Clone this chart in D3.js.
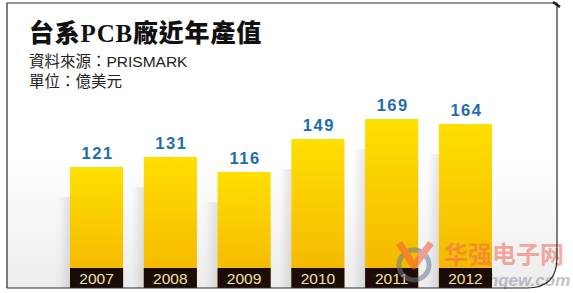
<!DOCTYPE html>
<html>
<head>
<meta charset="utf-8">
<script src="https://cdn.jsdelivr.net/npm/d3@7"></script>
<style>
  body { margin: 0; background: #fff; }
  svg { display: block; }
</style>
</head>
<body>
<div id="container"></div>
<script>
/* DATA */
const years = ["2007", "2008", "2009", "2010", "2011", "2012"];
const values = [121, 131, 116, 149, 169, 164];
const title = "台系PCB廠近年產值";
const subtitles = ["資料來源：PRISMARK", "單位：億美元"];

/* CONSTANTS */
const width = 573, height = 293;
const baseY = 288;

const svg = d3.select("#container")
  .append("svg")
  .attr("width", width)
  .attr("height", height);

const defs = svg.append("defs");

// bar gradient (bright yellow top, deeper yellow bottom)
const barGrad = defs.append("linearGradient")
  .attr("id", "barGrad").attr("x1", 0).attr("y1", 0).attr("x2", 0).attr("y2", 1);
barGrad.append("stop").attr("offset", "0%").attr("stop-color", "#ffdf00");
barGrad.append("stop").attr("offset", "100%").attr("stop-color", "#f3b400");

// background gradient inside the frame
const bgGrad = defs.append("linearGradient")
  .attr("id", "bgGrad").attr("x1", 0).attr("y1", 0).attr("x2", 0).attr("y2", 1);
bgGrad.append("stop").attr("offset", "0%").attr("stop-color", "#ffffff");
bgGrad.append("stop").attr("offset", "55%").attr("stop-color", "#ffffff");
bgGrad.append("stop").attr("offset", "100%").attr("stop-color", "#ececed");

// soft shadow left of each bar
const shGrad = defs.append("linearGradient")
  .attr("id", "shGrad").attr("x1", 0).attr("y1", 0).attr("x2", 1).attr("y2", 0);
shGrad.append("stop").attr("offset", "0%").attr("stop-color", "#000").attr("stop-opacity", 0);
shGrad.append("stop").attr("offset", "100%").attr("stop-color", "#000").attr("stop-opacity", 0.1);

/* FRAME */
const fx0 = 7, fy0 = 3, fx1 = 557, fy1 = baseY, r = 30;
const framePath = `M${fx0},${fy0} H${fx1} V${fy1 - r} Q${fx1},${fy1} ${fx1 - r},${fy1} H${fx0} Z`;
svg.append("path").attr("d", framePath).attr("fill", "url(#bgGrad)");

/* SCALES */
const xScale = d3.scaleBand()
  .domain(years)
  .range([70, 492])
  .paddingInner(0.28)
  .paddingOuter(0);

const yScale = d3.scaleLinear()
  .domain([0, 200])
  .range([baseY, baseY - 200]);

/* WATERMARK (behind the bars) */
const wm = svg.append("g").attr("opacity", 0.55);
wm.append("text").attr("x", 444).attr("y", 286)
  .attr("font-family", "Liberation Sans, Arial, sans-serif").attr("font-weight", "bold")
  .attr("font-style", "italic")
  .attr("font-size", 17).attr("fill", "#8a93a0")
  .text("www.hqew.com");

// shadows
svg.selectAll(".shadow")
  .data(years)
  .join("rect")
  .attr("class", "shadow")
  .attr("x", d => xScale(d) - 12)
  .attr("y", (d, i) => yScale(values[i]) + 30)
  .attr("width", 12)
  .attr("height", (d, i) => baseY - yScale(values[i]) - 30)
  .attr("fill", "url(#shGrad)");

// bars
svg.selectAll(".bar")
  .data(years)
  .join("rect")
  .attr("class", "bar")
  .attr("x", d => xScale(d))
  .attr("y", (d, i) => yScale(values[i]))
  .attr("width", xScale.bandwidth())
  .attr("height", (d, i) => baseY - yScale(values[i]))
  .attr("fill", "url(#barGrad)");

// value labels
svg.selectAll(".val")
  .data(years)
  .join("text")
  .attr("class", "val")
  .attr("x", d => xScale(d) + xScale.bandwidth() / 2 + 1)
  .attr("y", (d, i) => yScale(values[i]) - 8)
  .attr("text-anchor", "middle")
  .attr("font-family", "Liberation Sans, Arial, sans-serif")
  .attr("font-weight", "bold")
  .attr("font-size", 16.5)
  .attr("letter-spacing", 1.5)
  .attr("fill", "#1f6cb0")
  .text((d, i) => values[i]);

// year boxes
svg.selectAll(".ybox")
  .data(years)
  .join("rect")
  .attr("class", "ybox")
  .attr("x", d => xScale(d))
  .attr("y", baseY - 20)
  .attr("width", xScale.bandwidth())
  .attr("height", 20)
  .attr("fill", "#1b0c07");

svg.selectAll(".year")
  .data(years)
  .join("text")
  .attr("class", "year")
  .attr("x", d => xScale(d) + xScale.bandwidth() / 2)
  .attr("y", baseY - 4)
  .attr("text-anchor", "middle")
  .attr("font-family", "Liberation Sans, Arial, sans-serif")
  .attr("font-size", 15.5)
  .attr("fill", "#f2e2a2")
  .text(d => d);

/* WATERMARK (logo and name over the bars) */
const wm2 = svg.append("g").attr("opacity", 0.55);
wm2.append("circle").attr("cx", 414).attr("cy", 265).attr("r", 15)
  .attr("fill", "none").attr("stroke", "#6b7a90").attr("stroke-width", 5);
wm2.append("path").attr("d", "M399,243 L414,266 L431,243")
  .attr("fill", "none").attr("stroke", "#f25a3c").attr("stroke-width", 7)
  .attr("stroke-linejoin", "round");
wm2.append("text").attr("x", 444).attr("y", 263)
  .attr("font-family", "Noto Sans CJK SC, sans-serif").attr("font-weight", "bold")
  .attr("font-size", 24).attr("fill", "#f0695a")
  .text("华强电子网");

/* FRAME STROKE */
svg.append("path")
  .attr("d", `M${fx0},${fy1} V${fy0} H${fx1} V${fy1 - r} Q${fx1},${fy1} ${fx1 - r},${fy1} H${fx0}`)
  .attr("fill", "none").attr("stroke", "#2a2a2a").attr("stroke-width", 1.2);
svg.append("path").attr("d", `M${fx1 - 4},${fy0 - 1} L${fx1 + 3},${fy0 + 4}`)
  .attr("stroke", "#222").attr("stroke-width", 2.5);

/* TITLES */
svg.append("text")
  .attr("x", 29).attr("y", 42)
  .attr("font-family", "Liberation Serif, Noto Sans CJK TC, serif")
  .attr("font-weight", "900")
  .attr("font-size", 25)
  .attr("letter-spacing", 0.8)
  .attr("fill", "#111")
  .text(title);

svg.selectAll(".sub")
  .data(subtitles)
  .join("text")
  .attr("class", "sub")
  .attr("x", 29)
  .attr("y", (d, i) => 67 + i * 20)
  .attr("font-family", "Liberation Sans, Noto Sans CJK TC, sans-serif")
  .attr("font-size", 15.5)
  .attr("fill", "#222")
  .text(d => d);
</script>
</body>
</html>
